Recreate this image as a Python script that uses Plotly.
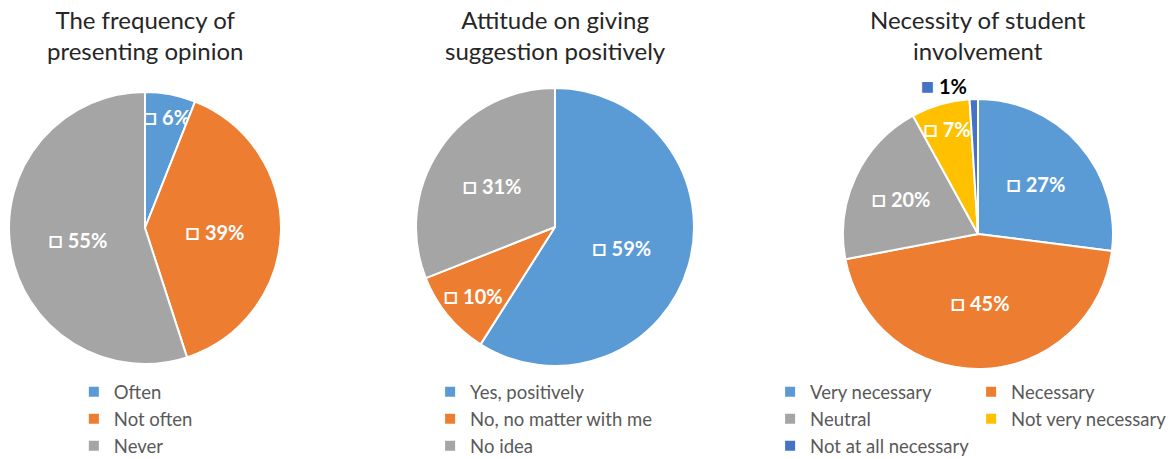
import plotly.graph_objects as go

# Office-style palette
BLUE = "#5B9BD5"
ORANGE = "#ED7D31"
GRAY = "#A5A5A5"
YELLOW = "#FFC000"
DARK_BLUE = "#4472C4"

FONT = "Lato, 'Open Sans', sans-serif"

# Survey results (percent of respondents)
freq_title = "The frequency of<br>presenting opinion"
freq_labels = ["Often", "Not often", "Never"]
freq_values = [6, 39, 55]

att_title = "Attitude on giving<br>suggestion positively"
att_labels = ["Yes, positively", "No, no matter with me", "No idea"]
att_values = [59, 10, 31]

nec_title = "Necessity of student<br>involvement"
nec_labels = ["Very necessary", "Necessary", "Neutral",
              "Not very necessary", "Not at all necessary"]
nec_values = [27, 45, 20, 7, 1]

LABEL_SIZE = 20


def key_text(v, key_color=None):
    """Data label preceded by a small legend key."""
    if key_color is None:
        return f"<span style='font-size:24px'>□</span> {v}%"
    return f"<span style='color:{key_color};font-size:22px'>■</span> {v}%"


W, H = 1172, 459


def dom(cx, cy, r):
    return dict(x=[(cx - r) / W, (cx + r) / W],
                y=[1 - (cy + r) / H, 1 - (cy - r) / H])


fig = go.Figure()

fig.add_trace(go.Pie(
    labels=freq_labels, values=freq_values,
    text=[key_text(v) for v in freq_values], textinfo="text",
    textposition="inside", insidetextorientation="horizontal",
    marker=dict(colors=[BLUE, ORANGE, GRAY], line=dict(color="white", width=2)),
    sort=False, direction="clockwise", rotation=0,
    domain=dom(145, 228, 136), legend="legend", hoverinfo="skip",
))

fig.add_trace(go.Pie(
    labels=att_labels, values=att_values,
    text=[key_text(v) for v in att_values], textinfo="text",
    textposition="inside", insidetextorientation="horizontal",
    marker=dict(colors=[BLUE, ORANGE, GRAY], line=dict(color="white", width=2)),
    sort=False, direction="clockwise", rotation=0,
    domain=dom(555, 227, 139), legend="legend2", hoverinfo="skip",
))

nec_text = [key_text(v) for v in nec_values[:-1]] + [key_text(nec_values[-1], DARK_BLUE)]
fig.add_trace(go.Pie(
    labels=nec_labels, values=nec_values,
    text=nec_text, textinfo="text",
    textposition=["inside"] * 4 + ["outside"], insidetextorientation="horizontal",
    outsidetextfont=dict(color="black", size=LABEL_SIZE, family=FONT, weight="bold"),
    marker=dict(colors=[BLUE, ORANGE, GRAY, YELLOW, DARK_BLUE],
                line=dict(color="white", width=2)),
    sort=False, direction="clockwise", rotation=0,
    domain=dom(978, 234, 135), legend="legend3", hoverinfo="skip",
))

fig.update_traces(insidetextfont=dict(color="white", size=LABEL_SIZE,
                                      family=FONT, weight="bold"))

legend_common = dict(
    font=dict(size=18.5, color="#595959", family=FONT),
    bgcolor="rgba(0,0,0,0)", itemwidth=30, yanchor="top", y=0.187,
    itemclick=False, itemdoubleclick=False,
)

fig.update_layout(
    width=W, height=H,
    margin=dict(l=0, r=0, t=0, b=0, autoexpand=False),
    paper_bgcolor="white", plot_bgcolor="white",
    font=dict(family=FONT),
    uniformtext=dict(minsize=LABEL_SIZE, mode="show"),
    showlegend=True,
    legend=dict(x=0.063, xanchor="left", **legend_common),
    legend2=dict(x=0.367, xanchor="left", **legend_common),
    # anchored just past the right edge so the entries wrap into two columns
    legend3=dict(x=1.0001, xanchor="right", orientation="h",
                 entrywidth=156, entrywidthmode="pixels", **legend_common),
    annotations=[
        dict(text=t, x=cx / W, y=1 - 3 / H, xref="paper", yref="paper",
             xanchor="center", yanchor="top", showarrow=False,
             font=dict(size=24, color="#262626", family=FONT))
        for t, cx in [(freq_title, 145), (att_title, 555), (nec_title, 978)]
    ],
)

fig.write_html("out.html")
